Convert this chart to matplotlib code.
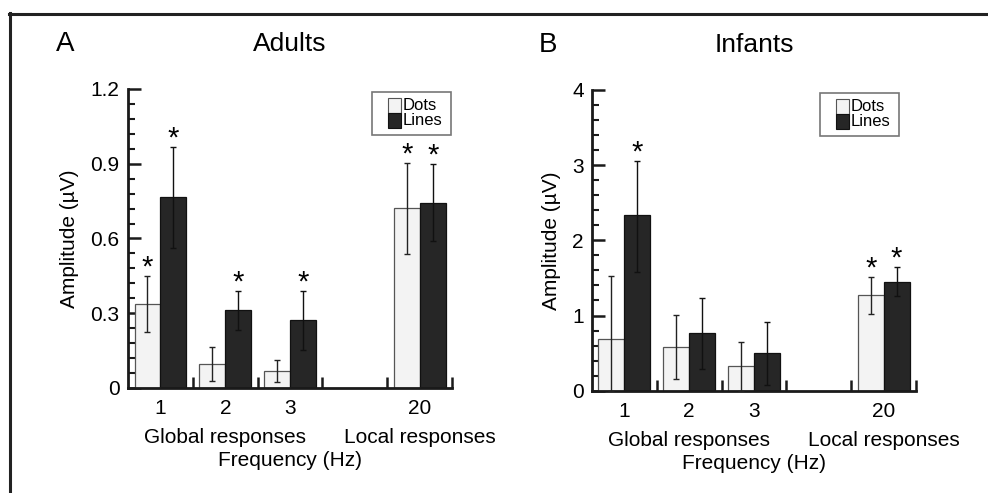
import numpy as np
import matplotlib
matplotlib.use('Agg')
import matplotlib.pyplot as plt
from matplotlib.ticker import FixedLocator, MultipleLocator
from matplotlib.lines import Line2D
from matplotlib.patches import Rectangle

plt.rcParams['font.family'] = ['Liberation Sans', 'DejaVu Sans']

# frequencies (tick labels) and their slot positions on the x axis
freqs = ['1', '2', '3', '20']
slots = [0.5, 1.5, 2.5, 4.5]

# Adults
ad_dots = [0.338, 0.095, 0.067, 0.722]
ad_dots_lo = [0.226, 0.027, 0.023, 0.537]
ad_dots_hi = [0.448, 0.163, 0.111, 0.902]
ad_lines = [0.766, 0.311, 0.271, 0.744]
ad_lines_lo = [0.561, 0.234, 0.154, 0.588]
ad_lines_hi = [0.969, 0.388, 0.388, 0.898]
ad_star_dots = [True, False, False, True]
ad_star_lines = [True, True, True, True]

# Infants
in_dots = [0.683, 0.576, 0.328, 1.273]
in_dots_lo = [0.0, 0.155, 0.0, 1.02]
in_dots_hi = [1.525, 1.002, 0.647, 1.508]
in_lines = [2.333, 0.772, 0.501, 1.45]
in_lines_lo = [1.583, 0.293, 0.075, 1.26]
in_lines_hi = [3.055, 1.237, 0.909, 1.64]
in_star_dots = [False, False, False, True]
in_star_lines = [True, False, False, True]

series = ['Dots', 'Lines']
DOT_COL = '#f3f3f3'
LINE_COL = '#262626'

fig = plt.figure(figsize=(9.88, 4.93), dpi=100)


def draw_legend(ax, right_px, top_px, aw, ah):
    # hand-made legend box, sizes in pixels from the axes origin
    def fx(p): return p / aw
    def fy(p): return p / ah
    bw, bh = 79, 43
    ax.add_patch(Rectangle((fx(right_px - bw), fy(top_px - bh)), fx(bw), fy(bh), transform=ax.transAxes,
                           facecolor='white', edgecolor='#777777', linewidth=1.2, zorder=5, clip_on=False))
    cols = [DOT_COL, LINE_COL]
    edges = ['#555555', '#111111']
    for i, name in enumerate(series):
        y0 = top_px - 6 - 15 * (i + 1)
        ax.add_patch(Rectangle((fx(right_px - bw + 16), fy(y0)), fx(13), fy(15), transform=ax.transAxes,
                               facecolor=cols[i], edgecolor=edges[i], linewidth=0.8, zorder=6, clip_on=False))
        ax.text(fx(right_px - bw + 31), fy(y0 + 7.5), name, transform=ax.transAxes, ha='left', va='center',
                fontsize=12, zorder=7)


def panel(rect, dots, dlo, dhi, lines, llo, lhi, sd, sl, ymax, ystep, yminor, yfmt, title, letter, leg_right):
    ax = fig.add_axes(rect)
    aw = rect[2] * 988
    ah = rect[3] * 493
    x = np.array(slots)
    w = 0.4
    ax.bar(x - w / 2, dots, w, color=DOT_COL, edgecolor='#555555', linewidth=0.9, zorder=2)
    ax.bar(x + w / 2, lines, w, color=LINE_COL, edgecolor='#111111', linewidth=0.9, zorder=2)
    d = np.array(dots); l = np.array(lines)
    ax.errorbar(x - w / 2, d, yerr=[d - np.array(dlo), np.array(dhi) - d], fmt='none',
                ecolor='#222222', elinewidth=1.0, capsize=2, capthick=1.0, zorder=3)
    ax.errorbar(x + w / 2, l, yerr=[l - np.array(llo), np.array(lhi) - l], fmt='none',
                ecolor='#111111', elinewidth=1.0, capsize=2, capthick=1.0, zorder=3)
    for i in range(len(x)):
        if sd[i]:
            ax.annotate('*', (x[i] - w / 2, dhi[i]), xytext=(0, -4), textcoords='offset points',
                        ha='center', va='bottom', fontsize=21, annotation_clip=False)
        if sl[i]:
            ax.annotate('*', (x[i] + w / 2, lhi[i]), xytext=(0, -4), textcoords='offset points',
                        ha='center', va='bottom', fontsize=21, annotation_clip=False)

    ax.set_xlim(0, 5)
    ax.set_ylim(0, ymax)
    for s in ['top', 'right']:
        ax.spines[s].set_visible(False)
    for s in ['left', 'bottom']:
        ax.spines[s].set_linewidth(2.0)
        ax.spines[s].set_color('#1a1a1a')

    ax.set_xticks(slots)
    ax.set_xticklabels(freqs)
    ax.xaxis.set_minor_locator(FixedLocator([1, 2, 3, 4, 5]))
    ax.tick_params(axis='x', which='major', length=0, pad=8, labelsize=15)
    ax.tick_params(axis='x', which='minor', direction='in', length=8, width=1.8, color='#1a1a1a')

    ax.yaxis.set_major_locator(MultipleLocator(ystep))
    ax.yaxis.set_minor_locator(MultipleLocator(yminor))
    ax.yaxis.set_major_formatter(yfmt)
    ax.tick_params(axis='y', which='major', direction='in', length=9, width=1.8, labelsize=15, pad=6, color='#1a1a1a')
    ax.tick_params(axis='y', which='minor', direction='in', length=5, width=1.5, color='#1a1a1a')

    ax.set_ylabel('Amplitude (µV)', fontsize=15, labelpad=8)
    ax.text(1.5, -0.164, 'Global responses', transform=ax.get_xaxis_transform(),
            ha='center', va='center', fontsize=15)
    ax.text(4.5, -0.164, 'Local responses', transform=ax.get_xaxis_transform(),
            ha='center', va='center', fontsize=15)
    ax.text(0.5, -0.242, 'Frequency (Hz)', transform=ax.transAxes,
            ha='center', va='center', fontsize=15)
    ax.text(0.5, 1.15, title, transform=ax.transAxes, ha='center', va='center', fontsize=19)
    ax.text(letter[1], 1.15, letter[0], transform=ax.transAxes, ha='center', va='center', fontsize=20)

    draw_legend(ax, leg_right, ah - 3, aw, ah)
    return ax


def fmt_adult(v, pos):
    return '0' if abs(v) < 1e-9 else '%.1f' % v


def fmt_inf(v, pos):
    return '%d' % round(v)


panel([0.1296, 0.213, 0.328, 0.6065], ad_dots, ad_dots_lo, ad_dots_hi, ad_lines, ad_lines_lo, ad_lines_hi,
      ad_star_dots, ad_star_lines, 1.2, 0.3, 0.06, plt.FuncFormatter(fmt_adult), 'Adults', ('A', -0.195), 323)
panel([0.5992, 0.2075, 0.328, 0.61], in_dots, in_dots_lo, in_dots_hi, in_lines, in_lines_lo, in_lines_hi,
      in_star_dots, in_star_lines, 4, 1, 0.2, plt.FuncFormatter(fmt_inf), 'Infants', ('B', -0.135), 307)

# outer frame (top and left edges)
fig.add_artist(Line2D([9 / 988, 1.0], [1 - 13.5 / 493, 1 - 13.5 / 493], transform=fig.transFigure,
                      color='#222222', linewidth=2.2))
fig.add_artist(Line2D([10 / 988, 10 / 988], [0, 1 - 13 / 493], transform=fig.transFigure,
                      color='#222222', linewidth=2.2))

fig.savefig('out.png', dpi=100)
